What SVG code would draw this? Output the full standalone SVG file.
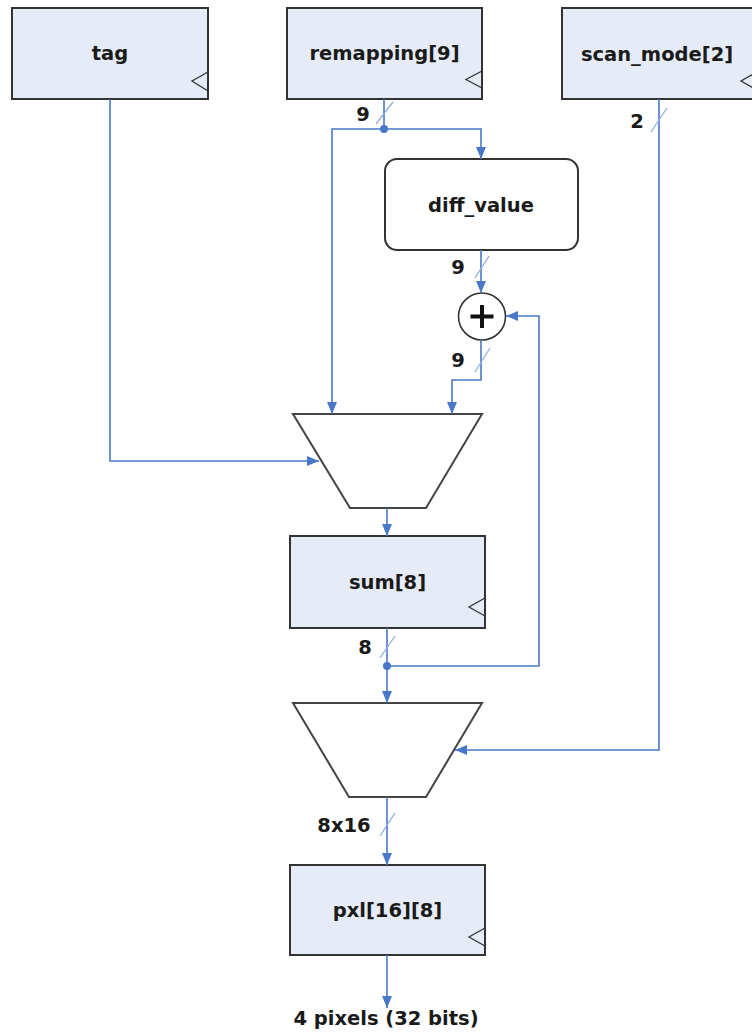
<svg xmlns="http://www.w3.org/2000/svg" width="752" height="1035" viewBox="0 0 752 1035">
<style>
.box{fill:#E6ECF7;stroke:#333;stroke-width:2}
.clk{fill:none;stroke:#333;stroke-width:1.3}
.mux{fill:#fff;stroke:#444;stroke-width:2}
.t{font-family:"DejaVu Sans",Verdana,sans-serif;font-weight:bold;font-size:19.5px;fill:#1a1a1a;text-anchor:middle}
.w{fill:none;stroke:#4A78C8;stroke-width:1.6}
.wa{fill:none;stroke:#4A78C8;stroke-width:1.6;marker-end:url(#ah)}
.sl{stroke:#8FAEE0;stroke-width:1.3}
.dot{fill:#4A78C8}
</style>
<defs>
<marker id="ah" markerUnits="userSpaceOnUse" markerWidth="12" markerHeight="12" viewBox="0 0 12 12" refX="12" refY="6" orient="auto">
<path d="M0,1 L12,6 L0,11 z" fill="#4A78C8"/>
</marker>
</defs>
<rect width="752" height="1035" fill="#fff"/>

<g id="tag">
<rect class="box" x="12" y="8" width="196" height="91"/>
<polyline class="clk" points="208,72 192,81 208,91"/>
<text class="t" x="110" y="60">tag</text>
</g>
<g id="remapping">
<rect class="box" x="287" y="8" width="195" height="91"/>
<polyline class="clk" points="482,71 466,79.5 482,88"/>
<text class="t" x="384.5" y="60">remapping[9]</text>
</g>
<g id="scan_mode">
<rect class="box" x="562" y="8" width="196" height="91"/>
<polyline class="clk" points="757,72 741,81 757,90"/>
<text class="t" x="657" y="61">scan_mode[2]</text>
</g>
<g id="diff_value">
<rect class="box" x="385" y="159" width="193" height="91" rx="12" ry="12" style="fill:#fff"/>
<text class="t" x="481" y="212">diff_value</text>
</g>
<g id="adder">
<circle cx="482" cy="316.5" r="23.5" fill="#fff" stroke="#333" stroke-width="1.6"/>
<path d="M482,305 V328 M470.5,316.5 H493.5" stroke="#111" stroke-width="4"/>
</g>
<g id="mux1">
<polygon class="mux" points="293,414 482,414 426,508 350,508"/>
</g>
<g id="sum">
<rect class="box" x="290" y="536" width="195" height="92"/>
<polyline class="clk" points="485,598 469,607 485,616"/>
<text class="t" x="387.5" y="589">sum[8]</text>
</g>
<g id="mux2">
<polygon class="mux" points="293,703 482,703 426,797 349,797"/>
</g>
<g id="pxl">
<rect class="box" x="290" y="865" width="195" height="90"/>
<polyline class="clk" points="485,928 469,937 485,946"/>
<text class="t" x="387.5" y="917">pxl[16][8]</text>
</g>

<g id="connectors">
<polyline class="wa" points="110,99 110,461 319,461"/>
<line class="w" x1="384" y1="99" x2="384" y2="129"/>
<polyline class="wa" points="384,129 332,129 332,414"/>
<polyline class="wa" points="384,129 481,129 481,159"/>
<circle class="dot" cx="384" cy="129" r="4"/>
<line class="sl" x1="376" y1="124" x2="393" y2="102"/>
<text class="t" x="363" y="121">9</text>

<polyline class="wa" points="481,250 481,293"/>
<line class="sl" x1="475" y1="278" x2="489" y2="256"/>
<text class="t" x="458" y="274">9</text>

<polyline class="wa" points="481,340 481,380 452,380 452,414"/>
<line class="sl" x1="475" y1="372" x2="490" y2="348"/>
<text class="t" x="458" y="367">9</text>

<polyline class="wa" points="387,508 387,536"/>

<polyline class="wa" points="387,628 387,703"/>
<polyline class="wa" points="387,666 539,666 539,316 506,316"/>
<circle class="dot" cx="387" cy="666" r="4"/>
<line class="sl" x1="380" y1="658" x2="395" y2="636"/>
<text class="t" x="365" y="654">8</text>

<polyline class="wa" points="659,99 659,750 455,750"/>
<line class="sl" x1="651" y1="132" x2="667" y2="108"/>
<text class="t" x="637" y="128">2</text>

<polyline class="wa" points="387,797 387,865"/>
<line class="sl" x1="380" y1="836" x2="395" y2="813"/>
<text class="t" x="344" y="832">8x16</text>

<polyline class="wa" points="387,955 387,1008"/>
<text class="t" x="386" y="1025">4 pixels (32 bits)</text>
</g>
</svg>
